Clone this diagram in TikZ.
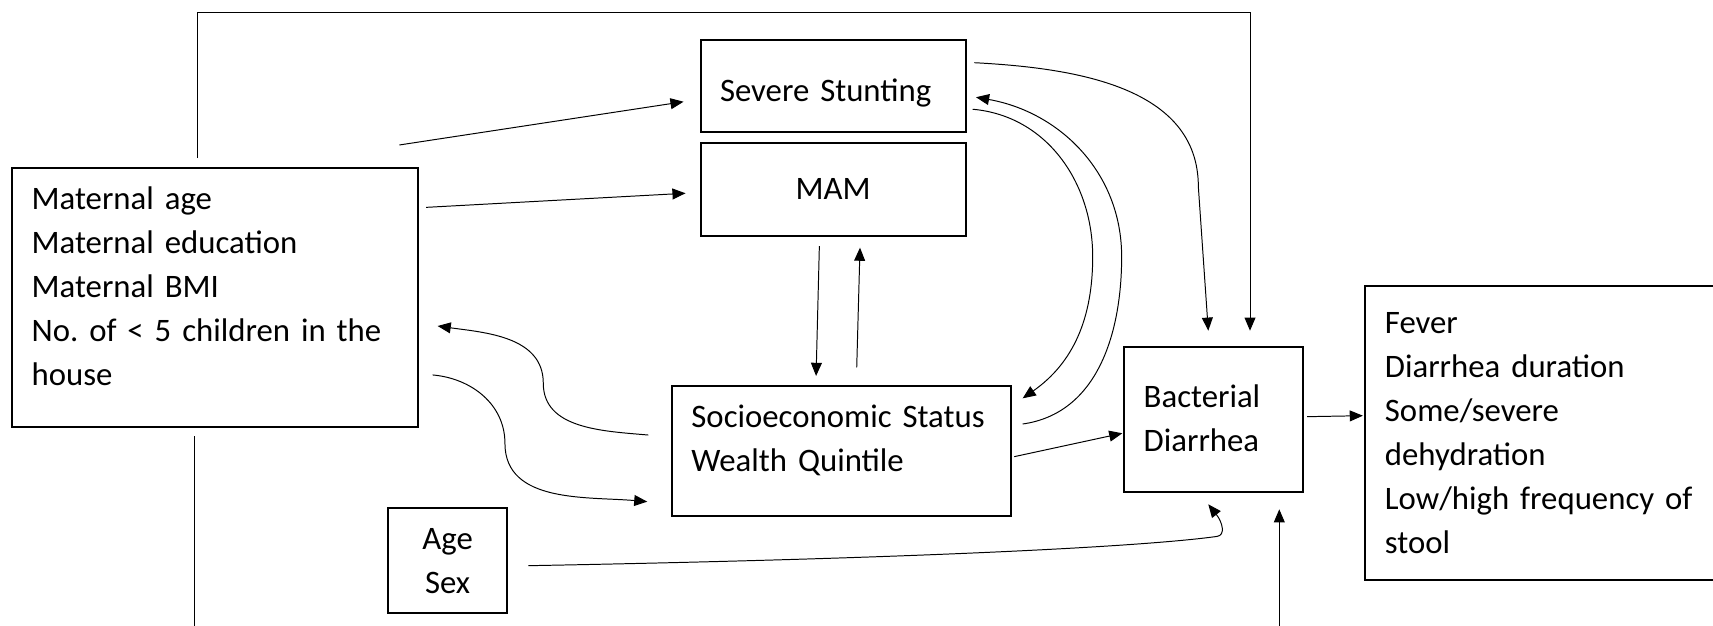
\documentclass[tikz,border=0pt]{standalone}
\usepackage{fontspec}
\setmainfont{Carlito}
\usetikzlibrary{arrows.meta}

\newcommand{\txtup}[1]{\rule{0pt}{#1pt}}
\newcommand{\txtdn}[1]{\rule[-#1pt]{0pt}{#1pt}}

\begin{document}
\begin{tikzpicture}[x=1pt,y=-1pt,>={Triangle[length=12pt,width=10pt]},
    main box/.style={draw,line width=1.8pt,inner sep=0pt,align=left,font=\fontsize{30}{40.3}\selectfont\frenchspacing},
    link/.style={line width=0.9pt}]

            \clip (0,0) rectangle (1568,573);

            \node[main box,minimum width=371.6pt,minimum height=236.6pt,text width=335pt] (mat) at (196.5,272.3) {\txtup{25}Maternal age\\Maternal education\\Maternal BMI\\No. of < 5 children in the\\house\txtdn{24.8}};
            \node[main box,minimum width=242.5pt,minimum height=84.5pt,text width=207pt] (ss) at (762.55,78.85) {\txtup{36.5}Severe Stunting\txtdn{8}};
            \node[main box,minimum width=242.5pt,minimum height=84.8pt,align=center] (mam) at (762.55,173.6) {\txtup{26}MAM\txtdn{7.2}};
            \node[main box,minimum width=310.2pt,minimum height=119pt,text width=274pt] (ses) at (769.9,412.8) {\txtup{25}Socioeconomic Status\\Wealth Quintile\txtdn{27.3}};
            \node[main box,minimum width=164.2pt,minimum height=132.7pt,text width=128pt] (bd) at (1110.9,383.65) {\txtup{26}Bacterial\\Diarrhea\txtdn{7.4}};
            \node[main box,minimum width=321.6pt,minimum height=269.2pt,text width=285pt] (out) at (1410.2,396.4) {\txtup{27}Fever\\Diarrhea duration\\Some/severe\\dehydration\\Low/high frequency of\\stool\txtdn{8.1}};
            \node[main box,minimum width=109.4pt,minimum height=95.7pt,align=center] (agesex) at (409.7,513.15) {\txtup{28}Age\\Sex\txtdn{7.2}};

            % maternal factors
            \draw[->,link] ([shift={(-17.6,-20.4)}]mat.north east) -- ([shift={(-14.7,14.25)}]ss.west);
            \draw[->,link] ([shift={(6.9,36.7)}]mat.north east) -- ([shift={(-12.9,3.3)}]mam.west);
            \draw[->,link] ([shift={(12.8,70.9)}]mat.east) to[out=-5,in=90] (462.2,405.8) to[out=-90,in=175] ([shift={(-21.4,46.4)}]ses.west);
            \draw[->,link] ([shift={(-20.5,-14.6)}]ses.west) to[out=175,in=-90] (497.3,350.8) to[out=90,in=-8] ([shift={(17.4,26.1)}]mat.east);

            % MAM and SES
            \draw[->,link] ([shift={(-12.55,8.3)}]mam.south) -- ([shift={(-22.9,-8.3)}]ses.north);
            \draw[->,link] ([shift={(14.3,-16.1)}]ses.north) -- ([shift={(24.65,9.8)}]mam.south);

            % stunting and SES
            \draw[->,link] ([shift={(5.6,21.15)}]ss.east) to[out=-5,in=90] (1000.2,235) to[out=-90,in=35] ([shift={(10.2,-48.2)}]ses.east);
            \draw[->,link] ([shift={(10.2,-24.7)}]ses.east) to[out=8,in=-90] (1026.7,235) to[out=90,in=-10] ([shift={(8.7,10.15)}]ss.east);

            % into bacterial diarrhea
            \draw[->,link] ([shift={(7.2,-21.45)}]ss.east) to[out=-3,in=90] (1096.9,170.9) -- ([shift={(-4.9,-13.7)}]bd.north);
            \draw[->,link] ([shift={(-15.6,-8.4)}]mat.north) -- (180.9,11.7) -| ([shift={(33.3,-13.7)}]bd.north);
            \draw[->,link] ([shift={(-18.1,7.7)}]mat.south) -- (178.4,600) -| ([shift={(60.1,15.3)}]bd.south);
            \draw[->,link] ([shift={(2.5,5.2)}]ses.east) -- ([shift={(-0.6,12.95)}]bd.west);
            \draw[->,link] ([shift={(18.3,4.65)}]agesex.east) .. controls (850,511) and (1050,500) .. (1114,491) .. controls (1122,490) and (1119,478) .. ([shift={(-4.9,10.7)}]bd.south);

            \draw[->,link] ([shift={(2.5,-2.25)}]bd.east) -- ([shift={(-1,-15.9)}]out.west);

            ;
        \end{tikzpicture}
\end{document}
